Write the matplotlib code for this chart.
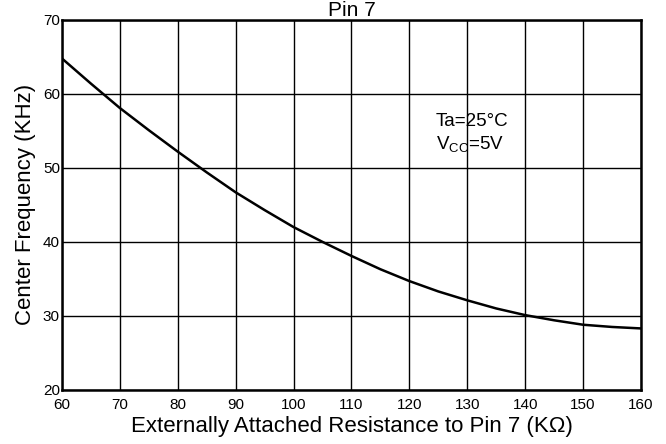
import matplotlib
matplotlib.use('Agg')
import matplotlib.pyplot as plt

plt.rcParams['font.family'] = ['Liberation Sans', 'DejaVu Sans']
plt.rcParams['mathtext.fontset'] = 'custom'
plt.rcParams['mathtext.rm'] = 'Liberation Sans'

# values
resistance = [60, 65, 70, 75, 80, 85, 90, 95, 100, 105, 110, 115,
              120, 125, 130, 135, 140, 145, 150, 155, 160]
frequency = [64.8, 61.4, 58.1, 55.1, 52.2, 49.4, 46.7, 44.3, 42.0, 40.0, 38.1, 36.3,
             34.7, 33.3, 32.1, 31.0, 30.1, 29.4, 28.8, 28.5, 28.3]

xticks = list(range(60, 161, 10))
yticks = list(range(20, 71, 10))

fig = plt.figure(figsize=(6.66, 4.44), dpi=100)
ax = fig.add_axes([0.093, 0.122, 0.8695, 0.833])

ax.plot(resistance, frequency, color='black', lw=1.8)

ax.set_xlim(60, 160)
ax.set_ylim(20, 70)
ax.set_xticks(xticks)
ax.set_yticks(yticks)
ax.grid(True, color='black', lw=1.0)
ax.tick_params(length=0, labelsize=11)
ax.tick_params(axis='x', pad=6)
ax.tick_params(axis='y', pad=1.5)
for s in ax.spines.values():
    s.set_linewidth(1.8)
    s.set_color('black')

ax.set_xlabel('Externally Attached Resistance to Pin 7 (K\u03a9)', fontsize=16, labelpad=3)
ax.set_ylabel('Center Frequency (KHz)', fontsize=16, labelpad=5)
ax.set_title('Pin 7', fontsize=15, pad=3)

ax.text(124.6, 55.7, 'Ta=25\u00b0C', fontsize=13.5, va='baseline')
ax.text(124.6, 52.5, r'V$_{\mathrm{CC}}$=5V', fontsize=13.5, va='baseline')

fig.savefig('out.png', dpi=100)
